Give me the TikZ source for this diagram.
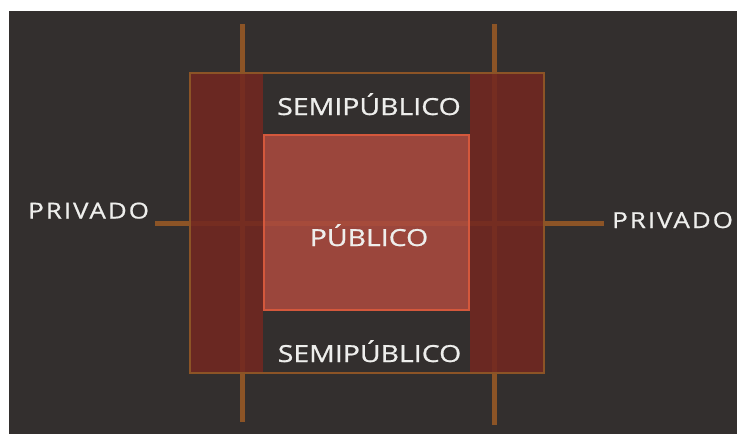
\documentclass[tikz,border=0pt]{standalone}
\usepackage{fontspec}
\setmainfont{Open Sans}
\newfontfamily\zonefont[FakeStretch=1.21, FakeBold=0.8]{Open Sans}
\newfontfamily\sidefont[FakeStretch=1.18, FakeBold=0.8, LetterSpace=9]{Open Sans}
\usetikzlibrary{positioning}
\definecolor{colorBack}{RGB}{51,47,46}
\definecolor{colorAxis}{RGB}{140,84,38}
\definecolor{colorPrivate}{RGB}{114,40,33}
\definecolor{colorPublic}{RGB}{170,74,62}
\definecolor{colorPublicEdge}{RGB}{212,88,60}
\definecolor{colorLabel}{RGB}{238,238,236}

\begin{document}
\begin{tikzpicture}[
    x=1pt, y=-1pt,
    zone/.style={rectangle, anchor=north west, inner sep=0pt, outer sep=0pt},
    axis/.style={draw=colorAxis, line width=5pt},
    label/.style={text=colorLabel, inner sep=0pt, font=\zonefont\fontsize{23.5}{23.5}\selectfont},
    sidelabel/.style={text=colorLabel, inner sep=0pt, font=\sidefont\fontsize{22}{22}\selectfont}
]

% Page and background
\useasboundingbox (0,0) rectangle (737,434);
\fill[white] (0,0) rectangle (737,434);
\fill[colorBack] (9,11) rectangle (737,434);

% Axis end points
\coordinate (AxisW) at (155,223);
\coordinate (AxisE) at (604,223);
\coordinate (AxisNW) at (242,24);
\coordinate (AxisSW) at (242,422);
\coordinate (AxisNE) at (494,24);
\coordinate (AxisSE) at (494,425);

% Axes
\draw[axis] (AxisW) -- (AxisE);
\draw[axis] (AxisNW) -- (AxisSW);
\draw[axis] (AxisNE) -- (AxisSE);

% Zones
\node[zone, fill=colorPrivate, fill opacity=0.88, minimum width=73pt, minimum height=300pt] (ColLeft) at (190,73) {};
\node[zone, fill=colorPrivate, fill opacity=0.88, minimum width=74pt, minimum height=300pt] (ColRight) at (470,73) {};
\node[zone, fill=colorBack, minimum width=207pt, minimum height=60pt] (SemiTop) at (263,73) {};
\node[zone, fill=colorBack, minimum width=207pt, minimum height=60pt] (SemiBottom) at (263,313) {};
\node[zone, fill=colorPublic, fill opacity=0.88, draw=colorPublicEdge, line width=2.5pt,
      minimum width=205pt, minimum height=175pt] (Public) at (264,135) {};

% Outer frame
\node[zone, draw=colorAxis, line width=2pt, minimum width=354pt, minimum height=300pt] (Frame) at (190,73) {};

% Labels
\node[label, anchor=base] (LblSemiTop) at (369,115) {SEMIPÚBLICO};
\node[label, anchor=base] (LblPublic) at (369,246) {PÚBLICO};
\node[label, anchor=base] (LblSemiBottom) at (369.5,362) {SEMIPÚBLICO};
\node[sidelabel, anchor=base west] (LblPrivLeft) at (28,218.5) {PRIVADO};
\node[sidelabel, anchor=base west] (LblPrivRight) at (612,228) {PRIVADO};

\end{tikzpicture}
\end{document}
